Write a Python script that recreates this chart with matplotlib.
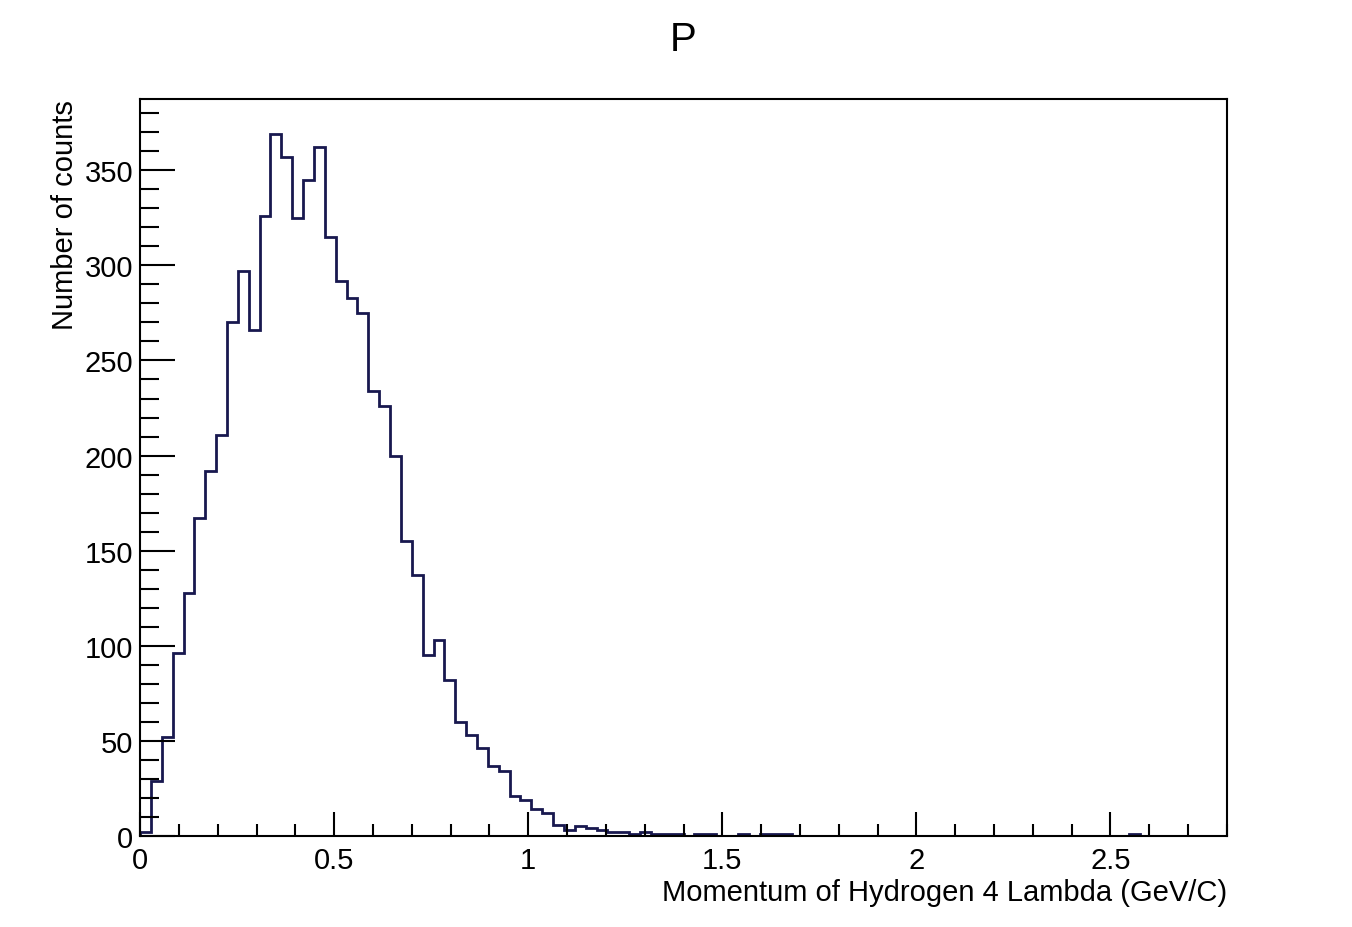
import matplotlib.pyplot as plt
import numpy as np
from matplotlib.ticker import MultipleLocator

plt.rcParams['font.family'] = ['Liberation Sans', 'DejaVu Sans']

# histogram of the momentum, 100 bins from 0 to 2.8 GeV/c
x_min = 0.0
x_max = 2.8
n_bins = 100
counts = [2, 29, 52, 96, 128, 167, 192, 211, 270, 297,
          266, 326, 369, 357, 325, 345, 362, 315, 292, 283,
          275, 234, 226, 200, 155, 137, 95, 103, 82, 60,
          53, 46, 37, 34, 21, 19, 14, 12, 6, 3,
          5, 4, 3, 2, 2, 1, 2, 1, 1, 1,
          0, 1, 1, 0, 0, 1, 0, 1, 1, 1,
          0, 0, 0, 0, 0, 0, 0, 0, 0, 0,
          0, 0, 0, 0, 0, 0, 0, 0, 0, 0,
          0, 0, 0, 0, 0, 0, 0, 0, 0, 0,
          0, 1, 0, 0, 0, 0, 0, 0, 0, 0]

title = "P"
x_title = "Momentum of Hydrogen 4 Lambda (GeV/C)"
y_title = "Number of counts"

edges = np.linspace(x_min, x_max, n_bins + 1)

fig = plt.figure(figsize=(13.52, 9.28), dpi=100)
ax = fig.add_axes([0.1036, 0.0981, 0.8039, 0.7941])

ax.stairs(counts, edges, color='#18184f', linewidth=2.0, baseline=0)

ax.set_xlim(x_min, x_max)
ax.set_ylim(0, 1.05 * max(counts))

ax.xaxis.set_major_locator(MultipleLocator(0.5))
ax.xaxis.set_minor_locator(MultipleLocator(0.1))
ax.yaxis.set_major_locator(MultipleLocator(50))
ax.yaxis.set_minor_locator(MultipleLocator(10))
ax.set_xticks(np.arange(0, 2.51, 0.5))
ax.set_xticklabels(["0", "0.5", "1", "1.5", "2", "2.5"])

ax.tick_params(axis='both', which='both', direction='in', top=False, right=False,
               width=1.5, labelsize=21, color='black')
ax.tick_params(axis='x', which='major', length=17, pad=7)
ax.tick_params(axis='x', which='minor', length=9)
ax.tick_params(axis='y', which='major', length=25, pad=5)
ax.tick_params(axis='y', which='minor', length=14)

for s in ax.spines.values():
    s.set_linewidth(1.5)

ax.set_xlabel(x_title, fontsize=21, loc='right', labelpad=3)
ax.set_ylabel(y_title, fontsize=21, loc='top', labelpad=4)
fig.text(0.5055, 0.957, title, fontsize=29, ha='center', va='center')

fig.savefig('out.png', dpi=100)
